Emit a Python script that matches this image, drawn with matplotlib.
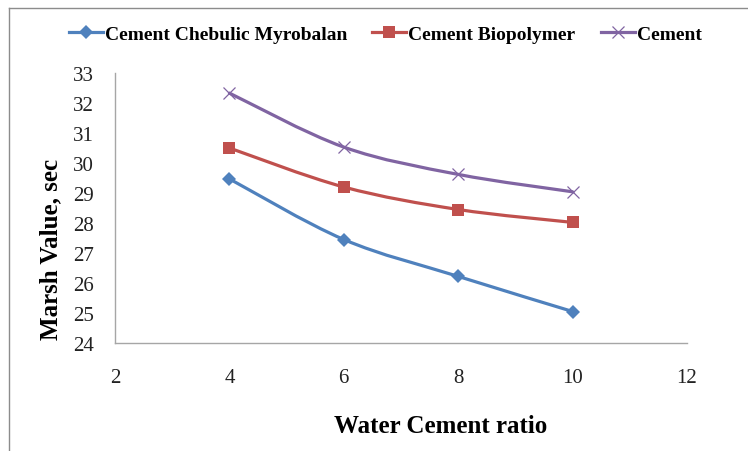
import numpy as np
import matplotlib
matplotlib.use("Agg")
import matplotlib.pyplot as plt
from matplotlib.path import Path
from matplotlib.patches import PathPatch
from matplotlib.lines import Line2D

# --- data ---
wc_ratio = [4, 6, 8, 10]
chebulic = [29.47, 27.45, 26.22, 25.05]
biopolymer = [30.5, 29.2, 28.45, 28.02]
cement = [32.33, 30.53, 29.62, 29.04]

series_names = ["Cement Chebulic Myrobalan", "Cement Biopolymer", "Cement"]
colors = ["#4F81BD", "#C0504D", "#8064A2"]


def smooth_path(xs, ys):
    # Excel-like smoothed line: Catmull-Rom segments written as cubic Beziers
    pts = np.column_stack([xs, ys]).astype(float)
    n = len(pts)
    verts = [pts[0]]
    codes = [Path.MOVETO]
    for i in range(n - 1):
        p0 = pts[i - 1] if i > 0 else pts[i]
        p1 = pts[i]
        p2 = pts[i + 1]
        p3 = pts[i + 2] if i + 2 < n else pts[i + 1]
        c1 = p1 + (p2 - p0) / 6.0
        c2 = p2 - (p3 - p1) / 6.0
        verts += [c1, c2, p2]
        codes += [Path.CURVE4] * 3
    return Path(verts, codes)


plt.rcParams['font.family'] = ['Liberation Serif', 'DejaVu Serif']

fig = plt.figure(figsize=(7.48, 4.52), dpi=100)
ax = fig.add_axes([115 / 748, 1 - 344 / 452, (687 - 115) / 748, (344 - 74) / 452])

markers = [dict(marker="D", ms=7.3, mew=0),
           dict(marker="s", ms=8.3, mew=0),
           dict(marker="x", ms=8, mew=0.9)]
handles = []
for ys, name, col, mk in zip([chebulic, biopolymer, cement], series_names, colors, markers):
    ax.add_patch(PathPatch(smooth_path(wc_ratio, ys), facecolor="none",
                           edgecolor=col, lw=2.3, capstyle="round", zorder=2))
    ax.plot(wc_ratio, ys, ls="none", color=col, zorder=3, **mk)
    handles.append(Line2D([], [], color=col, lw=2.3, **mk))

ax.set_xlim(2, 12)
ax.set_ylim(24, 33)
ax.set_xticks(range(2, 13, 2))
ax.set_yticks(range(24, 34))
ax.tick_params(length=0, labelsize=15, labelcolor="#222222")
ax.tick_params(axis="x", pad=18)
ax.tick_params(axis="y", pad=15)
for s in ["top", "right"]:
    ax.spines[s].set_visible(False)
for s in ["left", "bottom"]:
    ax.spines[s].set_color("#A6A6A6")
    ax.spines[s].set_linewidth(1.0)

fig.text(441 / 748, 1 - 427 / 452, "Water Cement ratio", ha="center", va="center",
         fontsize=18, fontweight="bold")
fig.text(51 / 748, 1 - 249 / 452, "Marsh Value, sec", ha="center", va="center",
         rotation=90, fontsize=18, fontweight="bold")

fig.legend(handles, series_names, loc="center", bbox_to_anchor=(385 / 748, 1 - 35 / 452),
           ncol=3, frameon=False, prop=dict(size=14, weight="bold"),
           handlelength=1.75, handletextpad=0.1, columnspacing=1.3,
           borderpad=0, borderaxespad=0)

# outer frame (left and top edges visible)
fig.add_artist(Line2D([9 / 748, 9 / 748], [0, 1 - 9 / 452], transform=fig.transFigure,
                      color="#8C8C8C", lw=1.0))
fig.add_artist(Line2D([9 / 748, 1], [1 - 9 / 452, 1 - 9 / 452], transform=fig.transFigure,
                      color="#8C8C8C", lw=1.0))

fig.savefig("out.png", dpi=100)
